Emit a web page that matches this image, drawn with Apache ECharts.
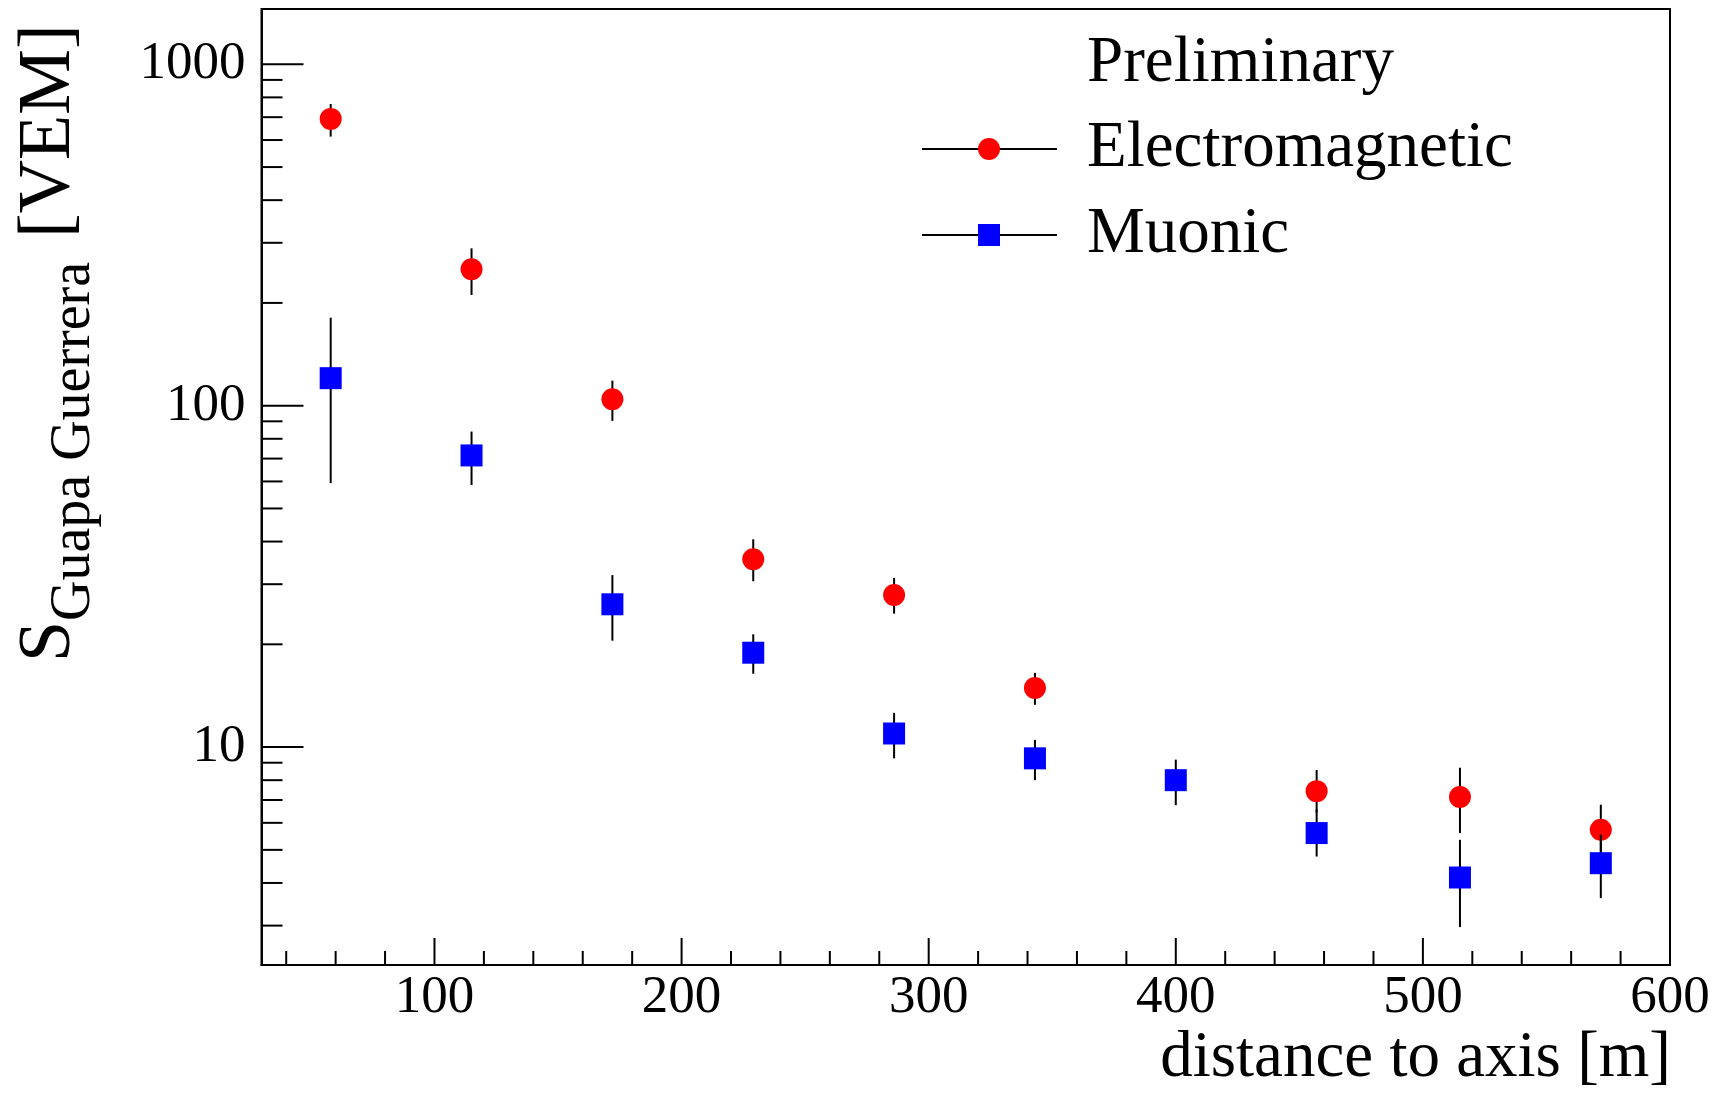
<!DOCTYPE html>
<html>
<head>
<meta charset="utf-8">
<script src="https://cdn.jsdelivr.net/npm/echarts@6/dist/echarts.min.js"></script>
<style>
  html, body { margin: 0; padding: 0; background: #fff; }
  #grafico { width: 1723px; height: 1094px; }
</style>
</head>
<body>
<div id="grafico"></div>
<script>
// datos
const distancia = [58, 115, 172, 229, 286, 343, 400, 457, 515, 572];

const em = [692, 251, 104.4, 35.5, 27.9, 14.9, null, 7.43, 7.14, 5.73];
const emAlto = [765, 289, 118.4, 40.6, 31.3, 16.5, null, 8.57, 8.70, 6.78];
const emBajo = [614, 211, 90.3, 30.6, 24.6, 13.3, null, 6.44, 5.60, 4.84];

const mu = [120.4, 71.5, 26.2, 18.9, 10.96, 9.27, 8.0, 5.60, 4.15, 4.57];
const muAlto = [181, 84, 31.9, 21.4, 12.6, 10.5, 9.19, 6.56, 5.35, 5.54];
const muBajo = [59.3, 58.6, 20.5, 16.4, 9.27, 8.0, 6.76, 4.78, 2.97, 3.61];

const xEtiquetas = [100, 200, 300, 400, 500, 600];
const xMenores = [40, 60, 80, 120, 140, 160, 180, 220, 240, 260, 280, 320, 340, 360, 380,
                  420, 440, 460, 480, 520, 540, 560, 580];
const yMayores = [10, 100, 1000];
const yMenores = [3, 4, 5, 6, 7, 8, 9, 20, 30, 40, 50, 60, 70, 80, 90,
                  200, 300, 400, 500, 600, 700, 800, 900];

const X_MIN = 30, X_MAX = 600;
const Y_MIN = 2.3, Y_MAX = 1452;

const fuente = "'Liberation Serif', 'DejaVu Serif', serif";

function puntos(vals) {
  const out = [];
  for (let i = 0; i < distancia.length; i++) {
    if (vals[i] !== null) out.push([distancia[i], vals[i]]);
  }
  return out;
}

function barras(bajo, alto) {
  const out = [];
  for (let i = 0; i < distancia.length; i++) {
    if (bajo[i] !== null) out.push([distancia[i], bajo[i], alto[i]]);
  }
  return out;
}

function dibujarBarra(params, api) {
  const a = api.coord([api.value(0), api.value(1)]);
  const b = api.coord([api.value(0), api.value(2)]);
  return {
    type: "line",
    shape: { x1: a[0], y1: a[1], x2: b[0], y2: b[1] },
    style: { stroke: "#000", lineWidth: 2 }
  };
}

// marcas del eje (hacia adentro)
function marcaY(largo) {
  return function (params, api) {
    const p = api.coord([api.value(0), api.value(1)]);
    return {
      type: "line",
      shape: { x1: p[0], y1: p[1], x2: p[0] + largo, y2: p[1] },
      style: { stroke: "#000", lineWidth: 2 }
    };
  };
}
function marcaX(largo) {
  return function (params, api) {
    const p = api.coord([api.value(0), api.value(1)]);
    return {
      type: "line",
      shape: { x1: p[0], y1: p[1], x2: p[0], y2: p[1] - largo },
      style: { stroke: "#000", lineWidth: 2 }
    };
  };
}

const iconoEM = "image://data:image/svg+xml;charset=utf-8," + encodeURIComponent(
  '<svg xmlns="http://www.w3.org/2000/svg" width="160" height="24" viewBox="0 0 160 24">' +
  '<line x1="0" y1="12" x2="135" y2="12" stroke="#000" stroke-width="2"/>' +
  '<circle cx="67" cy="12" r="11" fill="#ff0000"/></svg>');
const iconoMu = "image://data:image/svg+xml;charset=utf-8," + encodeURIComponent(
  '<svg xmlns="http://www.w3.org/2000/svg" width="160" height="24" viewBox="0 0 160 24">' +
  '<line x1="0" y1="12" x2="135" y2="12" stroke="#000" stroke-width="2"/>' +
  '<rect x="56" y="1" width="22" height="22" fill="#0000ff"/></svg>');

const grafico = echarts.init(document.getElementById("grafico"));

const opciones = {
  backgroundColor: "#fff",
  animation: false,
  grid: {
    left: 261.5, right: 53, top: 9, bottom: 129,
    show: true, borderColor: "#000", borderWidth: 2
  },
  legend: {
    data: [
      { name: "Electromagnetic", icon: iconoEM },
      { name: "Muonic", icon: iconoMu }
    ],
    orient: "vertical",
    left: 922, top: 116,
    padding: 0,
    itemWidth: 160, itemHeight: 24, itemGap: 20,
    selectedMode: false,
    textStyle: { fontFamily: fuente, fontSize: 65, lineHeight: 66, color: "#000" }
  },
  xAxis: {
    type: "value",
    min: X_MIN, max: X_MAX,
    axisLine: { show: true, lineStyle: { color: "#000", width: 2 } },
    axisTick: { show: false },
    splitLine: { show: false },
    axisLabel: {
      customValues: xEtiquetas,
      margin: 7,
      fontFamily: fuente, fontSize: 53, color: "#000"
    }
  },
  yAxis: {
    type: "log",
    logBase: 10,
    min: Y_MIN, max: Y_MAX,
    axisLine: { show: true, lineStyle: { color: "#000", width: 2 } },
    axisTick: { show: false },
    splitLine: { show: false },
    minorSplitLine: { show: false },
    axisLabel: {
      showMinLabel: false, showMaxLabel: false,
      margin: 16,
      padding: [12, 0, 0, 0],
      fontFamily: fuente, fontSize: 53, color: "#000",
      formatter: v => String(Math.round(v))
    }
  },
  graphic: [
    {
      type: "text", x: 1671, y: 1059,
      style: { text: "distance to axis [m]", font: "65px " + fuente, fill: "#000",
               textAlign: "right", textVerticalAlign: "middle" }
    },
    {
      type: "text", x: 1087, y: 64,
      style: { text: "Preliminary", font: "65px " + fuente, fill: "#000",
               textAlign: "left", textVerticalAlign: "middle" }
    },
    {
      type: "text", x: 50, y: 662, rotation: Math.PI / 2,
      style: { text: "S", font: "74px " + fuente, fill: "#000",
               textAlign: "left", textVerticalAlign: "middle" }
    },
    {
      type: "text", x: 74, y: 621, rotation: Math.PI / 2,
      style: { text: "Guapa Guerrera", font: "56px " + fuente, fill: "#000",
               textAlign: "left", textVerticalAlign: "middle" }
    },
    {
      type: "text", x: 50, y: 238, rotation: Math.PI / 2,
      style: { text: "[VEM]", font: "74px " + fuente, fill: "#000",
               textAlign: "left", textVerticalAlign: "middle" }
    }
  ],
  series: [
    {
      name: "Electromagnetic",
      type: "custom",
      renderItem: dibujarBarra,
      encode: { x: 0, y: [1, 2] },
      data: barras(emBajo, emAlto),
      z: 2
    },
    {
      name: "Electromagnetic",
      type: "scatter",
      symbol: "circle",
      symbolSize: 22,
      itemStyle: { color: "#ff0000", opacity: 1 },
      data: puntos(em),
      z: 3
    },
    {
      name: "Muonic",
      type: "custom",
      renderItem: dibujarBarra,
      encode: { x: 0, y: [1, 2] },
      data: barras(muBajo, muAlto),
      z: 4
    },
    {
      name: "Muonic",
      type: "scatter",
      symbol: "rect",
      symbolSize: 22,
      itemStyle: { color: "#0000ff", opacity: 1 },
      data: puntos(mu),
      z: 5
    },
    {
      name: "ticksYMayor", type: "custom", renderItem: marcaY(42), silent: true,
      data: yMayores.map(v => [X_MIN, v]), z: 6
    },
    {
      name: "ticksYMenor", type: "custom", renderItem: marcaY(21), silent: true,
      data: yMenores.map(v => [X_MIN, v]), z: 6
    },
    {
      name: "ticksXMayor", type: "custom", renderItem: marcaX(27), silent: true,
      data: xEtiquetas.map(v => [v, Y_MIN]), z: 6
    },
    {
      name: "ticksXMenor", type: "custom", renderItem: marcaX(14), silent: true,
      data: xMenores.map(v => [v, Y_MIN]), z: 6
    }
  ]
};

grafico.setOption(opciones);
</script>
</body>
</html>
